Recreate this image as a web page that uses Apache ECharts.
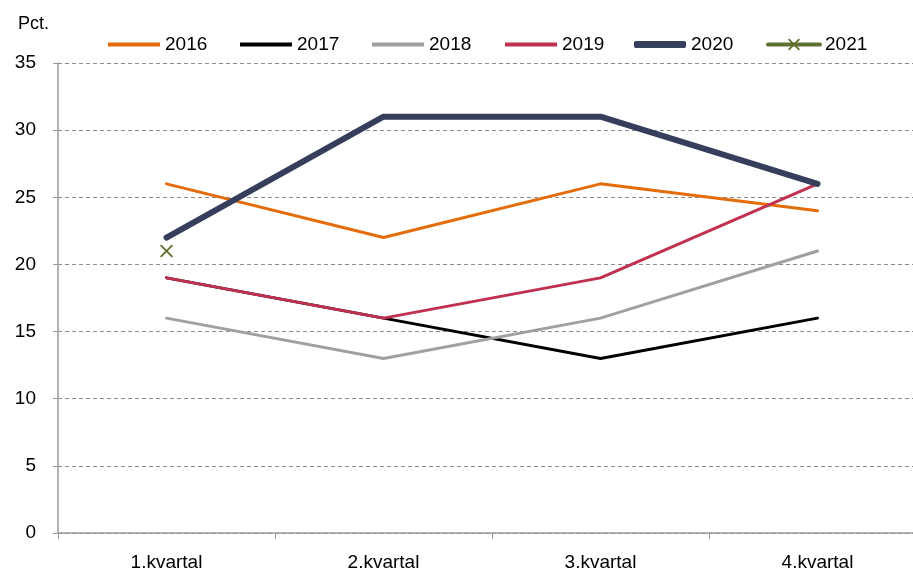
<!DOCTYPE html>
<html><head><meta charset="utf-8">
<script src="https://cdn.jsdelivr.net/npm/echarts@6/dist/echarts.min.js"></script>
<style>html,body{margin:0;padding:0;background:#fff}#c{width:913px;height:575px}</style>
</head><body><div id="c"></div>
<script>
const categories = ['1.kvartal','2.kvartal','3.kvartal','4.kvartal'];
const seriesNames = ['2016','2017','2018','2019','2020','2021'];
const s2016 = [26,22,26,24];
const s2017 = [19,16,13,16];
const s2018 = [16,13,16,21];
const s2019 = [19,16,19,26];
const s2020 = [22,31,31,26];
const s2021 = [21,null,null,null];
const yTicks = {min:0,max:35,interval:5};

const FONT = "'Liberation Sans Narrow','Liberation Sans',sans-serif";
const xPath = 'path://M1,0L5,4L9,0L10,1L6,5L10,9L9,10L5,6L1,10L0,9L4,5L0,1Z';
function line(name, data, color, width, extra){
  return Object.assign({name, type:'line', data, symbol:'none', showSymbol:false,
    lineStyle:{color, width, cap:'round', join:'round'}, itemStyle:{color}, z: 2, animation:false}, extra||{});
}
const legendLefts = [108, 240, 372, 505, 634, 766];
const legends = seriesNames.map((n, i) => {
  const base = {top:35, left:legendLefts[i], itemWidth:52, itemGap:0, padding:0,
    textStyle:{fontFamily:FONT, fontSize:19, color:'#000'}};
  if (n === '2020') return Object.assign(base, {itemHeight:7, data:[{name:n, icon:'roundRect'}]});
  if (n === '2021') return Object.assign(base, {itemHeight:15, lineStyle:{width:4}, data:[n]});
  return Object.assign(base, {itemHeight:4, data:[{name:n, icon:'rect'}]});
});
const chart = echarts.init(document.getElementById('c'), null, {renderer:'canvas'});
chart.setOption({
  animation:false,
  textStyle:{fontFamily:FONT},
  grid:{left:58, width:868, top:63, height:470, containLabel:false, outerBoundsMode:'none'},
  legend: legends,
  graphic:[{type:'text', left:18, top:15, style:{text:'Pct.', font:"18px "+FONT, fill:'#000'}}],
  xAxis:{type:'category', data:categories, boundaryGap:true,
    axisLine:{lineStyle:{color:'#9a9a9a', width:1.5}},
    axisTick:{show:true, length:6, lineStyle:{color:'#9a9a9a'}},
    axisLabel:{fontFamily:FONT, fontSize:19, color:'#000', margin:20}},
  yAxis:{type:'value', min:yTicks.min, max:yTicks.max, interval:yTicks.interval,
    axisLine:{show:true, lineStyle:{color:'#9a9a9a', width:1.5}},
    axisTick:{show:true, length:5, lineStyle:{color:'#9a9a9a'}},
    axisLabel:{fontFamily:FONT, fontSize:19, color:'#000', margin:22},
    splitLine:{lineStyle:{color:'#8c8c8c', type:[4,3], width:1}}},
  series:[
    line(seriesNames[0], s2016, '#E46C0A', 3),
    line(seriesNames[1], s2017, '#000000', 3),
    line(seriesNames[2], s2018, '#A0A0A0', 3),
    line(seriesNames[3], s2019, '#C0304F', 3),
    line(seriesNames[4], s2020, '#353F5C', 6),
    line(seriesNames[5], s2021, '#5E7131', 3, {symbol:xPath, symbolSize:13, showSymbol:true, itemStyle:{color:'#5E7131'}})
  ]
});
</script></body></html>
